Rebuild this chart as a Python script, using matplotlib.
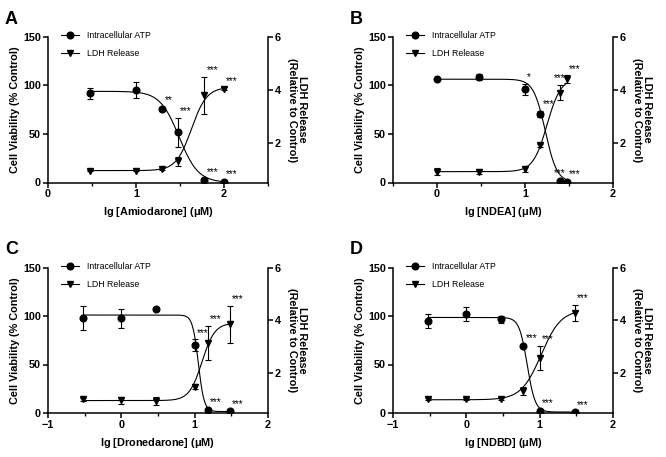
import numpy as np
import matplotlib
matplotlib.use('Agg')
import matplotlib.pyplot as plt
from matplotlib.lines import Line2D

plt.rcParams['font.family'] = ['Liberation Sans', 'DejaVu Sans']

# panel A - amiodarone
x_a = [0.477, 1.0, 1.301, 1.477, 1.778, 2.0]
atp_a = [92, 95.5, 76, 52, 2.5, 1]
atp_err_a = [5.5, 8.5, 2, 15, 1, 0.5]
ldh_a = [0.95, 0.95, 1.0, 1.3, 3.8, 4.05]
ldh_err_a = [0.03, 0.03, 0.03, 0.18, 0.7, 0.05]
atp_sig_a = ['', '', '**', '***', '***', '***']
ldh_sig_a = ['', '', '', '', '***', '***']
fit_atp_a = [0, 94, 1.49, -4]   # bottom, top, logEC50, hill
fit_ldh_a = [0.95, 4.1, 1.63, 5]

# panel B - NDEA
x_b = [0.0, 0.477, 1.0, 1.176, 1.398, 1.477]
atp_b = [106.5, 109, 96, 71, 2, 1]
atp_err_b = [1, 3, 5.5, 3, 0.5, 0.5]
ldh_b = [0.91, 0.91, 1.0, 1.9, 3.9, 4.4]
ldh_err_b = [0.12, 0.1, 0.12, 0.04, 0.3, 0.15]
atp_sig_b = ['', '', '*', '***', '***', '***']
ldh_sig_b = ['', '', '', '', '***', '***']
fit_atp_b = [0, 106.5, 1.23, -6.5]
fit_ldh_b = [0.91, 4.45, 1.25, 5.5]

# panel C - dronedarone
x_c = [-0.523, 0.0, 0.477, 1.0, 1.176, 1.477]
atp_c = [98, 97.5, 107, 70, 3.5, 2]
atp_err_c = [12, 10, 1, 6, 1, 0.5]
ldh_c = [1.02, 0.98, 0.96, 1.49, 3.15, 3.85]
ldh_err_c = [0.06, 0.13, 0.15, 0.1, 0.65, 0.7]
atp_sig_c = ['', '', '', '***', '***', '***']
ldh_sig_c = ['', '', '', '', '***', '***']
fit_atp_c = [1.5, 101, 1.05, -11]
fit_ldh_c = [0.97, 3.9, 1.1, 5]

# panel D - NDBD
x_d = [-0.523, 0.0, 0.477, 0.778, 1.0, 1.477]
atp_d = [95, 102, 96.5, 69, 2.5, 1.2]
atp_err_d = [7, 7.5, 3.5, 1, 0.5, 0.5]
ldh_d = [1.02, 1.02, 1.02, 1.33, 2.59, 4.28]
ldh_err_d = [0.03, 0.03, 0.03, 0.15, 0.45, 0.3]
atp_sig_d = ['', '', '', '***', '***', '***']
ldh_sig_d = ['', '', '', '', '***', '***']
fit_atp_d = [1, 98.5, 0.83, -8]
fit_ldh_d = [1.0, 4.4, 1.02, 3.2]

letters = ['A', 'B', 'C', 'D']
drugs = ['Amiodarone', 'NDEA', 'Dronedarone', 'NDBD']
xlims = [(0, 2.5), (-0.5, 2), (-1, 2), (-1, 2)]


def hill(x, p):
    return p[0] + (p[1] - p[0]) / (1 + 10 ** ((p[2] - x) * p[3]))


def stars(ax, x, y, err, sig):
    for k, (xi, yi, ei, s) in enumerate(zip(x, y, err, sig)):
        if not s:
            continue
        crowded = k + 1 < len(x) and sig[k + 1] and x[k + 1] - xi < 0.1
        if crowded:
            ax.annotate(s, (xi, yi + ei), xytext=(0, 1.2), textcoords='offset points',
                        ha='center', va='bottom', fontsize=7.3)
        else:
            ax.annotate(s, (xi, yi + ei), xytext=(1.5, 1.2), textcoords='offset points',
                        ha='left', va='bottom', fontsize=7.3)


def style(ax, side):
    for sp in ['top', 'left', 'right', 'bottom']:
        ax.spines[sp].set_visible(False)
    ax.spines[side].set_visible(True)
    ax.spines[side].set_linewidth(1.1)
    ax.tick_params(width=1.1, length=3.5, labelsize=7.8, pad=1.5)
    for t in ax.get_yticklabels() + ax.get_xticklabels():
        t.set_fontweight('bold')


fig = plt.figure(figsize=(6.66, 4.57), dpi=100)
W, H = 666, 457
boxes = [(48, 37), (393, 37), (48, 267.5), (393, 267.5)]
panels = [
    (x_a, atp_a, atp_err_a, ldh_a, ldh_err_a, atp_sig_a, ldh_sig_a, fit_atp_a, fit_ldh_a),
    (x_b, atp_b, atp_err_b, ldh_b, ldh_err_b, atp_sig_b, ldh_sig_b, fit_atp_b, fit_ldh_b),
    (x_c, atp_c, atp_err_c, ldh_c, ldh_err_c, atp_sig_c, ldh_sig_c, fit_atp_c, fit_ldh_c),
    (x_d, atp_d, atp_err_d, ldh_d, ldh_err_d, atp_sig_d, ldh_sig_d, fit_atp_d, fit_ldh_d),
]

for i, (x, atp, atp_e, ldh, ldh_e, s1, s2, f1, f2) in enumerate(panels):
    l, t = boxes[i]
    ax = fig.add_axes([l / W, 1 - (t + 145.5) / H, 220 / W, 145.5 / H])
    ax2 = ax.twinx()
    ax.patch.set_visible(False)
    ax.set_zorder(ax2.get_zorder() + 1)

    xx = np.linspace(x[0], x[-1], 300)
    ax.plot(xx, hill(xx, f1), color='black', lw=0.8)
    ax.errorbar(x, atp, yerr=atp_e, fmt='o', color='black', ms=4.8,
                capsize=2.5, elinewidth=0.8, capthick=0.8)
    ax2.plot(xx, hill(xx, f2), color='black', lw=0.8)
    ax2.errorbar(x, ldh, yerr=ldh_e, fmt='v', color='black', ms=5,
                 capsize=2.5, elinewidth=0.8, capthick=0.8)
    stars(ax, x, atp, atp_e, s1)
    stars(ax2, x, ldh, ldh_e, s2)

    ax.set_xlim(*xlims[i])
    ax.set_ylim(0, 150)
    ax.set_yticks([0, 50, 100, 150])
    ax.set_xticks(np.arange(np.ceil(xlims[i][0]), xlims[i][1] + 0.01, 1))
    ax.set_xticks(np.arange(xlims[i][0], xlims[i][1] + 0.01, 0.5), minor=True)
    ax.tick_params(which='minor', length=2.5, width=1.0)
    ax2.set_ylim(0.5, 6)
    ax2.set_yticks([2, 4, 6])
    style(ax, 'left')
    ax.spines['bottom'].set_visible(True)
    ax.spines['bottom'].set_linewidth(1.1)
    style(ax2, 'right')
    ax2.set_xlim(*xlims[i])

    ax.set_xlabel('lg [%s] ($\\mathregular{\\mu}$M)' % drugs[i], fontsize=7.8,
                  fontweight='bold', labelpad=4)
    ax.set_ylabel('Cell Viability (% Control)', fontsize=7.8, fontweight='bold', labelpad=2)
    ax2.set_ylabel('LDH Release\n(Relative to Control)', fontsize=7.8, fontweight='bold',
                   rotation=270, va='bottom', labelpad=4, linespacing=1.1)

    handles = [Line2D([], [], color='black', marker='o', ms=4.8, lw=0.8),
               Line2D([], [], color='black', marker='v', ms=5, lw=0.8)]
    ax.legend(handles, ['Intracellular ATP', 'LDH Release'], loc='upper left',
              bbox_to_anchor=(0.06, 1.04), frameon=False, fontsize=6.3,
              handlelength=2.0, handletextpad=0.9, labelspacing=1.05,
              borderpad=0, borderaxespad=0)

    fig.text((l - 43) / W, 1 - (t - 26) / H, letters[i], fontsize=13,
             fontweight='bold', ha='left', va='top')

fig.savefig('out.png', dpi=100)
